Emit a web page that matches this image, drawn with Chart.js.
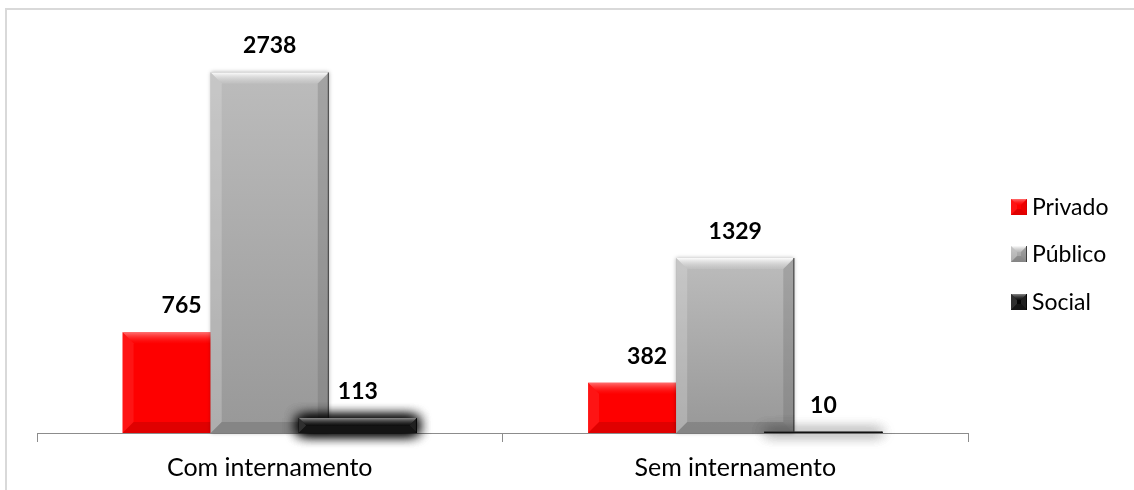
<!DOCTYPE html>
<html>
<head>
<meta charset="utf-8">
<script src="https://cdn.jsdelivr.net/npm/chart.js@4"></script>
<style>
  html, body { margin: 0; padding: 0; background: #fff; }
  #wrap { position: relative; width: 1134px; height: 490px; overflow: hidden; }
  canvas { display: block; }
</style>
</head>
<body>
<div id="wrap"><canvas id="chart" width="1134" height="494"></canvas></div>
<script>
// chart data
const categories = ['Com internamento', 'Sem internamento'];
const seriesNames = ['Privado', 'Público', 'Social'];
const privado = [765, 382];
const publico = [2738, 1329];
const social = [113, 10];

const baseColors = ['#fe0000', '#a8a8a8', '#050505'];

// light/dark tints used for the bevel edges
const bevelStyle = [
  { top: ['rgba(255,140,140,0.8)', 'rgba(255,30,30,0.1)'], left: 'rgba(255,80,80,0.25)', right: 'rgba(170,0,0,0.2)', bottom: 'rgba(170,0,0,0.35)', edge: 'rgba(170,0,0,0.3)', body: null },
  { top: ['rgba(255,255,255,0.95)', 'rgba(205,205,205,0.3)'], left: 'rgba(225,225,225,0.3)', right: 'rgba(90,90,90,0.25)', bottom: 'rgba(90,90,90,0.3)', edge: 'rgba(40,40,40,0.8)', body: ['#bcbcbc', '#989898'] },
  { top: ['rgba(150,150,150,0.9)', 'rgba(40,40,40,0.3)'], left: 'rgba(90,90,90,0.5)', right: 'rgba(60,60,60,0.5)', bottom: 'rgba(30,30,30,0.6)', edge: 'rgba(0,0,0,0.8)', body: null }
];

function drawBevel(ctx, left, top, right, bottom, style, size) {
  const h = bottom - top;
  const w = right - left;
  if (h <= 0 || w <= 0) return;
  const b = Math.min(size, h / 2, w / 2);

  if (style.body) {
    const g = ctx.createLinearGradient(0, top, 0, bottom);
    g.addColorStop(0, style.body[0]);
    g.addColorStop(1, style.body[1]);
    ctx.fillStyle = g;
    ctx.fillRect(left, top, w, h);
  }

  function quad(p, fill) {
    ctx.beginPath();
    ctx.moveTo(p[0], p[1]);
    ctx.lineTo(p[2], p[3]);
    ctx.lineTo(p[4], p[5]);
    ctx.lineTo(p[6], p[7]);
    ctx.closePath();
    ctx.fillStyle = fill;
    ctx.fill();
  }

  const tg = ctx.createLinearGradient(0, top, 0, top + b);
  tg.addColorStop(0, style.top[0]);
  tg.addColorStop(1, style.top[1]);
  quad([left, top, right, top, right - b, top + b, left + b, top + b], tg);
  quad([left, top, left + b, top + b, left + b, bottom - b, left, bottom], style.left);
  quad([right, top, right, bottom, right - b, bottom - b, right - b, top + b], style.right);
  quad([left, bottom, left + b, bottom - b, right - b, bottom - b, right, bottom], style.bottom);

  ctx.strokeStyle = style.edge;
  ctx.lineWidth = 1;
  ctx.beginPath();
  ctx.moveTo(right - 0.5, top);
  ctx.lineTo(right - 0.5, bottom);
  ctx.stroke();
}

// draws the datasets in series order (later ones on top), adds bevels, shadows and labels
const bevelBars = {
  id: 'bevelBars',
  beforeDatasetsDraw(chart) {
    const ctx = chart.ctx;
    chart.data.datasets.forEach((ds, i) => {
      const meta = chart.getDatasetMeta(i);
      ctx.save();
      if (i === 2) {
        // heavy soft shadow round the Social bars
        ctx.shadowColor = 'rgba(0,0,0,1)';
        ctx.shadowBlur = 14;
        meta.controller.draw();
        meta.controller.draw();
      } else if (i === 1) {
        ctx.shadowColor = 'rgba(0,0,0,0.3)';
        ctx.shadowBlur = 4;
      }
      meta.controller.draw();
      ctx.restore();

      meta.data.forEach(bar => {
        const left = bar.x - bar.width / 2;
        const right = bar.x + bar.width / 2;
        ctx.save();
        drawBevel(ctx, left, bar.y, right, bar.base, bevelStyle[i], 11);
        ctx.restore();
      });
    });

    // value labels
    ctx.save();
    ctx.font = 'bold 23px Lato';
    ctx.fillStyle = '#000';
    ctx.textAlign = 'center';
    ctx.textBaseline = 'alphabetic';
    chart.data.datasets.forEach((ds, i) => {
      chart.getDatasetMeta(i).data.forEach((bar, j) => {
        ctx.fillText(String(ds.data[j]), bar.x, bar.y - 19);
      });
    });
    ctx.restore();
    return false;
  },
  afterDraw(chart) {
    const ctx = chart.ctx;
    // outer frame (only top and left are inside the picture)
    ctx.save();
    ctx.strokeStyle = '#d9d9d9';
    ctx.lineWidth = 2;
    ctx.beginPath();
    ctx.moveTo(6, 494);
    ctx.lineTo(6, 9);
    ctx.lineTo(1134, 9);
    ctx.stroke();

    // legend
    const rows = [207, 254, 302];
    ctx.font = '23px Lato';
    ctx.textBaseline = 'middle';
    ctx.textAlign = 'left';
    seriesNames.forEach((name, i) => {
      const y = rows[i];
      ctx.fillStyle = baseColors[i];
      ctx.fillRect(1011, y - 8, 16, 16);
      drawBevel(ctx, 1011, y - 8, 1027, y + 8, bevelStyle[i], 6);
      ctx.fillStyle = '#000';
      ctx.fillText(name, 1032, y + 1);
    });
    ctx.restore();
  }
};

const ctx = document.getElementById('chart').getContext('2d');

new Chart(ctx, {
  type: 'bar',
  data: {
    labels: categories,
    datasets: [
      { label: seriesNames[0], data: privado, backgroundColor: baseColors[0] },
      { label: seriesNames[1], data: publico, backgroundColor: baseColors[1] },
      { label: seriesNames[2], data: social, backgroundColor: baseColors[2] }
    ]
  },
  options: {
    responsive: false,
    animation: false,
    devicePixelRatio: 1,
    categoryPercentage: 0.568,
    barPercentage: 1.34,
    layout: {
      padding: { left: 37, right: 166, top: 38, bottom: 0 }
    },
    plugins: {
      legend: { display: false },
      tooltip: { enabled: false }
    },
    scales: {
      x: {
        grid: {
          display: true,
          drawOnChartArea: false,
          tickLength: 9,
          color: '#8c8c8c',
          offset: true
        },
        border: { display: true, color: '#8c8c8c', width: 1 },
        ticks: {
          color: '#000',
          padding: 11,
          font: { family: 'Lato', size: 25, lineHeight: 1.2 }
        }
      },
      y: {
        display: false,
        min: 0,
        max: 3000
      }
    }
  },
  plugins: [bevelBars]
});
</script>
</body>
</html>
